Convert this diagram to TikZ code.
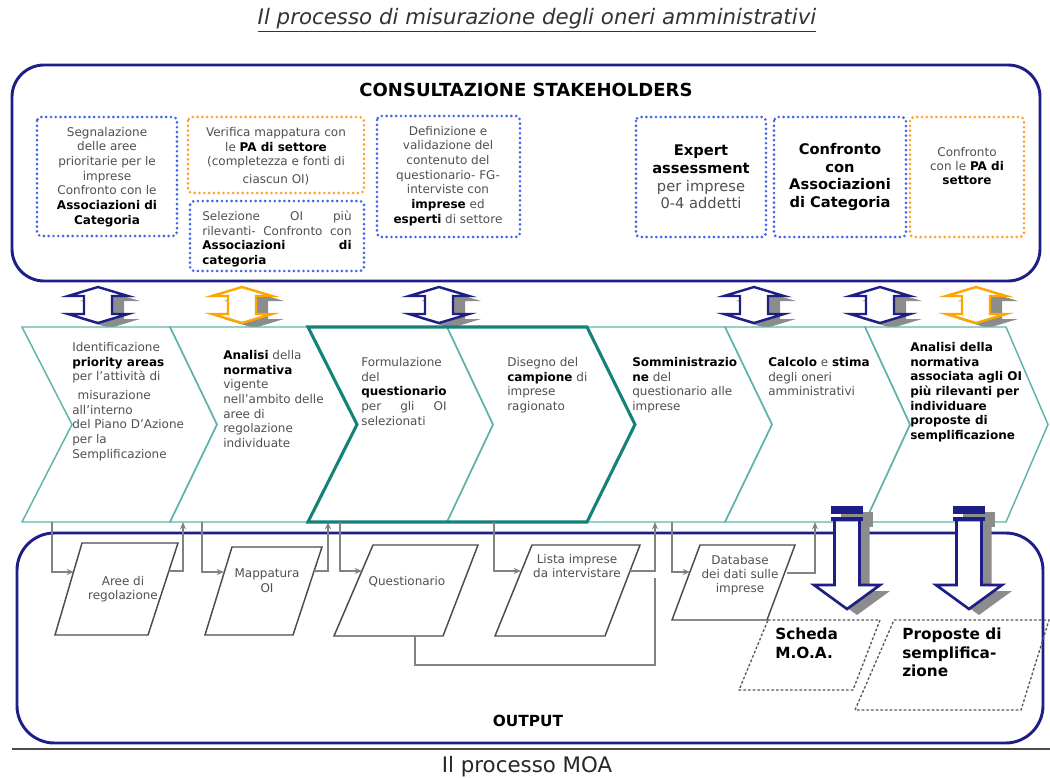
\documentclass[tikz,border=0pt]{standalone}
\usepackage{fontspec}
\setmainfont{DejaVu Sans}
\usetikzlibrary{arrows.meta}
\definecolor{navy}{RGB}{30,30,135}
\definecolor{dblue}{RGB}{60,100,240}
\definecolor{dorange}{RGB}{255,160,40}
\definecolor{aorange}{RGB}{255,165,0}
\definecolor{tealL}{RGB}{95,180,172}
\definecolor{tealD}{RGB}{20,130,120}
\definecolor{conn}{RGB}{130,130,130}
\definecolor{txt}{RGB}{80,80,80}
\definecolor{shad}{RGB}{140,140,140}
\newcommand\kb[1]{{\color{black}\bfseries #1}}
\tikzset{
  bigframe/.style={draw=navy, line width=2.2pt, rounded corners=24pt},
  dotframe/.style={line width=2.2pt, dash pattern=on 0pt off 3.6pt, line cap=round, rounded corners=3pt},
  chevthin/.style={draw=tealL, line width=1.1pt, line join=miter},
  chevthick/.style={draw=tealD, line width=2.3pt, line join=miter},
  para/.style={draw=black!70, line width=1.1pt, line join=miter},
  dpara/.style={draw=black!65, line width=1pt, dash pattern=on 2pt off 1.5pt},
  flow/.style={draw=conn, line width=1.4pt, -{Stealth[length=5.5pt,width=4.5pt]}},
  flowplain/.style={draw=conn, line width=1.4pt},
  small/.style={font=\fontsize{9}{11}\selectfont, text=txt, inner sep=0pt},
  ptext/.style={font=\fontsize{9}{10.5}\selectfont, text=txt, inner sep=0pt, align=center},
  big/.style={font=\fontsize{11}{13.3}\selectfont, text=txt, inner sep=0pt, align=center},
  outtext/.style={font=\fontsize{11.5}{13.9}\selectfont\bfseries, text=black, inner sep=0pt, align=left},
}
\begin{document}
\begin{tikzpicture}[x=0.75pt,y=-0.75pt]
\useasboundingbox (0,0) rectangle (1050,778);
\fill[white] (0,0) rectangle (1050,778);

% title
\node[font=\fontsize{16}{18}\selectfont\itshape, text=black!80, inner sep=0] (title) at (537,20) {\underline{Il processo di misurazione degli oneri amministrativi}};

% consultation frame
\draw[bigframe] (12,65) rectangle (1040,281);
\node[font=\fontsize{13.5}{15}\selectfont\bfseries, inner sep=0] (constitle) at (526,90) {CONSULTAZIONE STAKEHOLDERS};

\draw[dotframe, draw=dblue] (37,117) rectangle (177,236);
\node[small, align=center] (s1) at (107,177) {Segnalazione\\delle aree\\prioritarie per le\\imprese\\Confronto con le\\\kb{Associazioni di}\\\kb{Categoria}};

\draw[dotframe, draw=dorange] (188,117) rectangle (364,193);
\node[small, align=center] (s2) at (276,156) {Verifica mappatura con\\le \kb{PA di settore}\\(completezza e fonti di\\[2pt]ciascun OI)};

\draw[dotframe, draw=dblue] (190,201) rectangle (364,271);
\node[small, align=left, text width=112pt] (s3) at (277,239) {Selezione\hfill OI\hfill più\\rilevanti-\hfill Confronto\hfill con\\\kb{Associazioni}\hfill\kb{di}\\\kb{categoria}};

\draw[dotframe, draw=dblue] (377,116) rectangle (520,237);
\node[small, align=center] (s4) at (448,176) {Definizione e\\validazione del\\contenuto del\\questionario- FG-\\interviste con\\\kb{imprese} ed\\\kb{esperti} di settore};

\draw[dotframe, draw=dblue] (636,117) rectangle (766,237);
\node[big] (s5) at (701,177) {\kb{Expert}\\\kb{assessment}\\per imprese\\0-4 addetti};

\draw[dotframe, draw=dblue] (774,117) rectangle (906,237);
\node[big] (s6) at (840,177) {\kb{Confronto}\\\kb{con}\\\kb{Associazioni}\\\kb{di Categoria}};

\draw[dotframe, draw=dorange] (910,117) rectangle (1024,237);
\node[font=\fontsize{9}{10.5}\selectfont, text=txt, inner sep=0, align=center, anchor=north] (s7) at (967,147) {Confronto\\con le \kb{PA di}\\\kb{settore}};

% double arrows
\foreach \cx/\col in {98/navy,242/aorange,439/navy,754/navy,880/navy,976/aorange}{
  \fill[shad, shift={(12,5)}] (\cx,287) -- (\cx+30,296) -- (\cx+14,296) -- (\cx+14,314) -- (\cx+30,314) -- (\cx,323) -- (\cx-30,314) -- (\cx-14,314) -- (\cx-14,296) -- (\cx-30,296) -- cycle;
  \draw[draw=\col, fill=white, line width=1.8pt, line join=miter] (\cx,287) -- (\cx+30,296) -- (\cx+14,296) -- (\cx+14,314) -- (\cx+30,314) -- (\cx,323) -- (\cx-30,314) -- (\cx-14,314) -- (\cx-14,296) -- (\cx-30,296) -- cycle;
}

% chevrons
\fill[white] (22,327) -- (1006,327) -- (1048,424.5) -- (1006,522) -- (22,522) -- (72,424.5) -- cycle;
\draw[chevthin] (22,327) -- (170,327) -- (217,424.5) -- (170,522) -- (22,522) -- (72,424.5) -- cycle;
\draw[chevthin] (170,327) -- (308,327) -- (357,424.5) -- (308,522) -- (170,522) -- (217,424.5) -- cycle;
\draw[chevthin] (308,327) -- (447,327) -- (493,424.5) -- (447,522) -- (308,522) -- (357,424.5) -- cycle;
\draw[chevthin] (447,327) -- (587,327) -- (635,424.5) -- (587,522) -- (447,522) -- (493,424.5) -- cycle;
\draw[chevthin] (587,327) -- (725,327) -- (772,424.5) -- (725,522) -- (587,522) -- (635,424.5) -- cycle;
\draw[chevthin] (725,327) -- (865,327) -- (910,424.5) -- (865,522) -- (725,522) -- (772,424.5) -- cycle;
\draw[chevthin] (865,327) -- (1006,327) -- (1048,424.5) -- (1006,522) -- (865,522) -- (910,424.5) -- cycle;
\draw[chevthick] (308,327) -- (587,327) -- (635,424.5) -- (587,522) -- (308,522) -- (357,424.5) -- cycle;

\node[small, align=left, anchor=north west] (c1) at (72,342) {Identificazione\\\kb{priority areas}\\per l’attività di\\[3pt]\hspace*{4pt}misurazione\\all’interno\\del Piano D’Azione\\per la\\Semplificazione};
\node[small, align=left, anchor=north west] (c2) at (223,350) {\kb{Analisi} della\\\kb{normativa}\\vigente\\nell’ambito delle\\aree di\\regolazione\\individuate};
\node[small, align=left, anchor=north west] (c3) at (361,357) {Formulazione\\del\\\kb{questionario}\\\makebox[64pt][s]{per gli OI}\\selezionati};
\node[small, align=left, anchor=north west] (c4) at (507,357) {Disegno del\\\kb{campione} di\\imprese\\ragionato};
\node[small, align=left, anchor=north west] (c5) at (632,357) {\kb{Somministrazio}\\\kb{ne} del\\questionario alle\\imprese};
\node[small, align=left, anchor=north west] (c6) at (768,357) {\kb{Calcolo} e \kb{stima}\\degli oneri\\amministrativi};
\node[small, align=left, anchor=north west] (c7) at (910,342) {\kb{Analisi della}\\\kb{normativa}\\\kb{associata agli OI}\\\kb{più rilevanti per}\\\kb{individuare}\\\kb{proposte di}\\\kb{semplificazione}};

% output frame
\draw[bigframe, rounded corners=28pt] (17,533) rectangle (1043,743);
\node[font=\fontsize{11.5}{13}\selectfont\bfseries, inner sep=0] (outlbl) at (528,721) {OUTPUT};
\draw[black!70, line width=1.5pt] (12,749) -- (1050,749);
\node[font=\fontsize{16}{18}\selectfont, text=black!85, inner sep=0] (caption) at (527,767) {Il processo MOA};

% parallelograms
\draw[para, fill=white] (82,543) -- (178,543) -- (148,635) -- (55,635) -- cycle;
\node[ptext] (p1) at (123,589) {Aree di\\regolazione};
\draw[para, fill=white] (232,547) -- (322,547) -- (293,635) -- (205,635) -- cycle;
\node[ptext] (p2) at (267,581) {Mappatura\\[1pt]OI};
\draw[para, fill=white] (373,545) -- (478,545) -- (443,636) -- (334,636) -- cycle;
\node[ptext] (p3) at (407,582) {Questionario};
\draw[para, fill=white] (532,545) -- (640,545) -- (605,636) -- (495,636) -- cycle;
\node[ptext] (p4) at (577,566) {Lista imprese\\da intervistare};
\draw[para, fill=white] (700,545) -- (795,545) -- (767,620) -- (672,620) -- cycle;
\node[ptext] (p5) at (740,575) {Database\\dei dati sulle\\imprese};

% connectors
\coordinate (c1b) at (52,522);   \coordinate (p1l) at (74,572);
\coordinate (p1r) at (169,571);  \coordinate (c2b) at (183,522);
\coordinate (c2d) at (202,522);  \coordinate (p2l) at (224,572);
\coordinate (p2r) at (314,571);  \coordinate (c3b) at (328,522);
\coordinate (c3d) at (340,522);  \coordinate (p3l) at (362,571);
\coordinate (c4d) at (494,522);  \coordinate (p4l) at (521,571);
\coordinate (p4r) at (630,571);  \coordinate (c5b) at (655,522);
\coordinate (c5d) at (672,522);  \coordinate (p5l) at (690,572);
\coordinate (p5r) at (787,573);  \coordinate (c6b) at (815,522);
\coordinate (p3b) at (415,636);  \coordinate (p3low) at (415,665);
\coordinate (j4) at (655,578);

\draw[flow] (c1b) |- (p1l);
\draw[flow] (p1r) -| (c2b);
\draw[flow] (c2d) |- (p2l);
\draw[flow] (p2r) -| (c3b);
\draw[flow] (c3d) |- (p3l);
\draw[flow] (c4d) |- (p4l);
\draw[flow] (p4r) -| (c5b);
\draw[flow] (c5d) |- (p5l);
\draw[flow] (p5r) -| (c6b);
\draw[flowplain] (p3b) -- (p3low) -| (j4);

% dashed outputs
\draw[dpara] (768,620) -- (880,620) -- (853,690) -- (739,690) -- cycle;
\node[outtext, anchor=north west] (moa) at (775,628) {Scheda\\M.O.A.};
\draw[dpara] (894,620) -- (1049,620) -- (1021,710) -- (855,710) -- cycle;
\node[outtext, anchor=north west] (prop) at (902,628) {Proposte di\\semplifica-\\zione};

% big down arrows
\foreach \cx in {847,969}{
  \fill[shad, shift={(10,6)}] (\cx-16,506) rectangle (\cx+16,521);
  \fill[shad, shift={(10,6)}] (\cx-12.5,520) -- (\cx-12.5,585) -- (\cx-33,585) -- (\cx,609) -- (\cx+33,585) -- (\cx+12.5,585) -- (\cx+12.5,520) -- cycle;
  \draw[navy, fill=white, line width=2pt, line join=miter] (\cx-12.5,520) -- (\cx-12.5,585) -- (\cx-33,585) -- (\cx,609) -- (\cx+33,585) -- (\cx+12.5,585) -- (\cx+12.5,520) -- cycle;
  \fill[navy] (\cx-16,506) rectangle (\cx+16,514);
  \fill[navy] (\cx-16,517) rectangle (\cx+16,521);
}
\end{tikzpicture}
\end{document}
